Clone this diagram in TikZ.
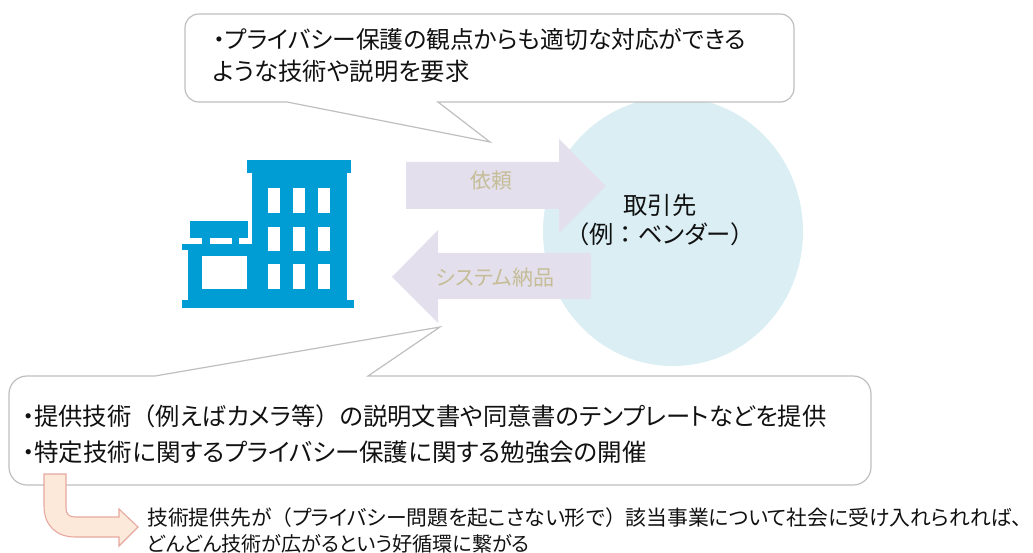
\documentclass[tikz,border=0pt]{standalone}
\usepackage{fontspec}
\setmainfont{Noto Sans CJK JP}[RawFeature=+palt]
\newfontfamily\fwfont{Noto Sans CJK JP}
\newcommand{\fwt}[1]{{\fwfont #1}}
\definecolor{bldg}{HTML}{009DD4}
\definecolor{arrowfill}{HTML}{E4DFEC}
\definecolor{arrowtext}{HTML}{C4BD97}
\definecolor{disc}{HTML}{DAEEF3}
\definecolor{callline}{HTML}{BFBFBF}
\definecolor{pinkfill}{HTML}{FDE9D9}
\definecolor{pinkline}{HTML}{E6A8A0}
\definecolor{txt}{HTML}{111111}
\tikzset{
 callout/.style={draw=callline,line width=1.2pt,fill=white,line join=miter},
 bigarrow/.style={fill=arrowfill,draw=none},
 bodytext/.style={anchor=base west,inner sep=0pt,text=txt,font=\fontsize{23.8}{28}\selectfont},
 smalltext/.style={anchor=base west,inner sep=0pt,text=txt,font=\fontsize{20.5}{24}\selectfont},
 arrowlabel/.style={inner sep=0pt,text=arrowtext,font=\fontsize{21}{26}\selectfont},
 circletext/.style={inner sep=0pt,text=txt,font=\fontsize{24.3}{30}\selectfont},
}
\begin{document}
\begin{tikzpicture}[x=1pt,y=-1pt]
\useasboundingbox (0,0) rectangle (1033,553);
% disc
\fill[disc] (673,231.5) ellipse [x radius=130,y radius=134.5];
% top callout
\draw[callout] (199,14) -- (780,14) .. controls (788,14) and (794,20) .. (794,28) -- (794,88) .. controls (794,96) and (788,102) .. (780,102)
 -- (438,102) -- (490,142) -- (287,102) -- (199,102) .. controls (191,102) and (185,96) .. (185,88) -- (185,28) .. controls (185,20) and (191,14) .. (199,14) -- cycle;
% bottom callout
\draw[callout] (27,376) -- (155,376) -- (440,327) -- (368,376) -- (853,376) .. controls (863,376) and (871,384) .. (871,394) -- (871,467) .. controls (871,477) and (863,485) .. (853,485)
 -- (27,485) .. controls (17,485) and (9,477) .. (9,467) -- (9,394) .. controls (9,384) and (17,376) .. (27,376) -- cycle;
% arrows
\fill[bigarrow] (406,162) -- (559,162) -- (559,139) -- (606,186) -- (559,233) -- (559,209) -- (406,209) -- cycle;
\fill[bigarrow] (591,253) -- (438,253) -- (438,230) -- (392,277) -- (438,323) -- (438,299) -- (591,299) -- cycle;
% building
\fill[bldg] (247,160) rectangle (351,173);
\fill[bldg] (252,173) rectangle (347,300);
\fill[bldg] (182,300) rectangle (354,308);
\fill[bldg] (188,250) rectangle (252,300);
\fill[bldg] (182,244) rectangle (252,250);
\fill[bldg] (190,221) rectangle (248,238);
\fill[bldg] (202,238) rectangle (210,244);
\fill[bldg] (232,238) rectangle (239,244);
\fill[white] (202,256) rectangle (247,289);
\foreach \xx in {268,293,318}{
 \fill[white] (\xx,188) rectangle +(12,25);
 \fill[white] (\xx,227) rectangle +(12,24);
 \fill[white] (\xx,264) rectangle +(12,25);
}
% pink arrow
\draw[fill=pinkfill,draw=pinkline,line width=1.1pt,line join=miter] (44,474) -- (66,474) -- (66,508) .. controls (66,514) and (69,517) .. (75,517) -- (119,517) -- (119,509) -- (138,527) -- (119,546) -- (119,537) -- (75,537) .. controls (56,537) and (44,525) .. (44,506) -- cycle;
% labels
\node[bodytext] (t1) at (213,49) {・プライバシー保護の観点からも適切な対応ができる};
\node[bodytext,font=\fontsize{24.3}{28}\selectfont] (t2) at (213,81) {ような技術や説明を要求};
\node[arrowlabel] (a1) at (491,181) {依頼};
\node[arrowlabel] (a2) at (495,278) {システム納品};
\node[circletext] (c1) at (660,205) {取引先};
\node[circletext] (c2) at (660,234) {\fwt{（}例\fwt{：}ベンダー\fwt{）}};
\node[bodytext,font=\fontsize{24.3}{28}\selectfont] (b1) at (22,425) {・提供技術\fwt{（}例えばカメラ等\fwt{）}の説明文書や同意書のテンプレートなどを提供};
\node[bodytext,font=\fontsize{24.5}{28}\selectfont] (b2) at (22,461) {・特定技術に関するプライバシー保護に関する勉強会の開催};
\node[smalltext,font=\fontsize{20.8}{24}\selectfont] (s1) at (147,525) {技術提供先が\fwt{（}プライバシー問題を起こさない形で\fwt{）}該当事業について社会に受け入れられれば、};
\node[smalltext,font=\fontsize{20.1}{24}\selectfont] (s2) at (147,551) {どんどん技術が広がるという好循環に繋がる};
\end{tikzpicture}
\end{document}
